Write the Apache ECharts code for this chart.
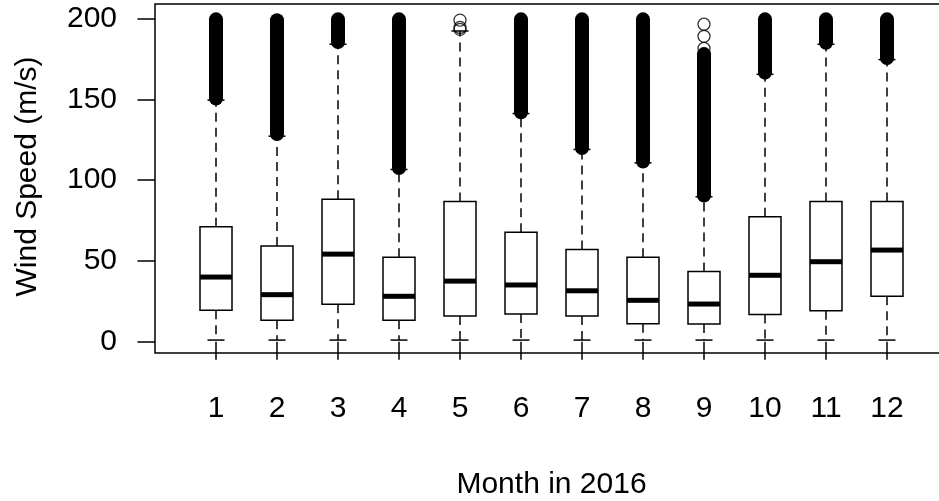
<!DOCTYPE html>
<html><head><meta charset="utf-8">
<script src="https://cdn.jsdelivr.net/npm/echarts@6/dist/echarts.min.js"></script>
<style>html,body{margin:0;padding:0;background:#fff}#c{width:939px;height:501px}</style>
</head><body><div id="c"></div><script>
// ---- data ----
const months = [1, 2, 3, 4, 5, 6, 7, 8, 9, 10, 11, 12];
const whiskerLow  = [1, 1, 1, 1, 1, 1, 1, 1, 1, 1, 1, 1];
const q1          = [19.4, 13.2, 23.1, 13.2, 15.9, 17.1, 15.9, 11.1, 10.9, 16.9, 19.2, 28.1];
const median      = [40.0, 29.1, 54.2, 28.1, 37.5, 35.1, 31.5, 25.6, 23.3, 41.1, 49.5, 56.7];
const q3          = [71.1, 59.2, 88.1, 52.2, 86.8, 67.8, 57.1, 52.2, 43.5, 77.3, 86.8, 86.8];
const whiskerHigh = [149.5, 127.2, 184.1, 106.6, 192.3, 141.2, 119.0, 110.7, 89.7, 165.5, 184.1, 174.6];
// dense runs of outliers (lowest and highest outlier of each run)
const outlierLow  = [150.5, 128.5, 185.5, 107.5, null, 142.0, 119.8, 111.5, 90.5, 166.5, 185.0, 175.5];
const outlierHigh = [199.5, 199.0, 199.5, 199.5, null, 199.5, 199.5, 199.5, 178.0, 199.5, 199.5, 199.5];
// isolated outliers
const sparseMonth = [5, 5, 5, 9, 9, 9];
const sparseValue = [199.0, 194.5, 193.3, 181.5, 189.0, 196.5];
const yTicks = [0, 50, 100, 150, 200];

const FONT = '"Liberation Sans", Arial, sans-serif';
const chart = echarts.init(document.getElementById('c'), null, {renderer: 'canvas'});

const boxData = months.map((m, i) => [m, whiskerLow[i], q1[i], median[i], q3[i], whiskerHigh[i]]);
const bandData = months.map((m, i) => [m, outlierLow[i], outlierHigh[i]]).filter(d => d[1] != null);
const sparseData = sparseMonth.map((m, i) => [m, sparseValue[i]]);

function renderBox(params, api) {
  const x = api.value(0);
  const pLow = api.coord([x, api.value(1)]);
  const pQ1 = api.coord([x, api.value(2)]);
  const pMed = api.coord([x, api.value(3)]);
  const pQ3 = api.coord([x, api.value(4)]);
  const pHigh = api.coord([x, api.value(5)]);
  const cx = pMed[0];
  const bw = 32, cw = 17;
  const dash = {stroke: '#000', lineWidth: 1.5, lineDash: [9, 6]};
  const solid = {stroke: '#000', lineWidth: 1.5};
  return {type: 'group', children: [
    {type: 'line', shape: {x1: cx, y1: pQ3[1], x2: cx, y2: pHigh[1]}, style: dash},
    {type: 'line', shape: {x1: cx, y1: pQ1[1], x2: cx, y2: pLow[1]}, style: dash},
    {type: 'line', shape: {x1: cx - cw / 2, y1: pHigh[1], x2: cx + cw / 2, y2: pHigh[1]}, style: solid},
    {type: 'line', shape: {x1: cx - cw / 2, y1: pLow[1], x2: cx + cw / 2, y2: pLow[1]}, style: solid},
    {type: 'rect', shape: {x: cx - bw / 2, y: pQ3[1], width: bw, height: pQ1[1] - pQ3[1]},
      style: {fill: '#fff', stroke: '#000', lineWidth: 1.5}},
    {type: 'line', shape: {x1: cx - bw / 2, y1: pMed[1], x2: cx + bw / 2, y2: pMed[1]},
      style: {stroke: '#000', lineWidth: 5}}
  ]};
}

function renderBand(params, api) {
  const x = api.value(0);
  const pLo = api.coord([x, api.value(1)]);
  const pHi = api.coord([x, api.value(2)]);
  const r = 7;
  return {type: 'rect',
    shape: {x: pLo[0] - r, y: pHi[1] - r, width: 2 * r, height: pLo[1] - pHi[1] + 2 * r, r: r},
    style: {fill: '#000'}};
}

const txt = {fontFamily: FONT, fontSize: 30, color: '#000'};

chart.setOption({
  animation: false,
  backgroundColor: '#fff',
  grid: {left: 155, top: 4, width: 793, height: 349, show: true, containLabel: false,
    outerBoundsMode: 'none',
    borderColor: '#000', borderWidth: 1.5, backgroundColor: '#fff'},
  xAxis: {
    type: 'value', min: 0, max: 13, position: 'bottom',
    axisLine: {show: false}, splitLine: {show: false},
    axisTick: {show: true, customValues: months, length: 18, lineStyle: {color: '#000', width: 1.5}},
    axisLabel: Object.assign({customValues: months, margin: 41}, txt),
    name: 'Month in 2016', nameLocation: 'middle', nameGap: 117, nameTextStyle: txt
  },
  yAxis: {
    type: 'value', min: -7, max: 209,
    axisLine: {show: false}, splitLine: {show: false},
    axisTick: {show: true, customValues: yTicks, length: 17.5, lineStyle: {color: '#000', width: 1.5}},
    axisLabel: Object.assign({customValues: yTicks, margin: 38, padding: [4, 0, 0, 0]}, txt),
    name: 'Wind Speed (m/s)', nameLocation: 'middle', nameGap: 112, nameRotate: 90,
    nameTextStyle: Object.assign({padding: [0, 0, 0, 4]}, txt)
  },
  series: [
    {type: 'custom', data: bandData, renderItem: renderBand, encode: {x: 0, y: [1, 2]}, z: 2},
    {type: 'custom', data: boxData, renderItem: renderBox, encode: {x: 0, y: [1, 2, 3, 4, 5]}, z: 3},
    {type: 'scatter', data: sparseData, symbol: 'circle', symbolSize: 12, z: 4,
      itemStyle: {color: 'rgba(255,255,255,0)', borderColor: '#000', borderWidth: 1.3}}
  ]
});
</script></body></html>
